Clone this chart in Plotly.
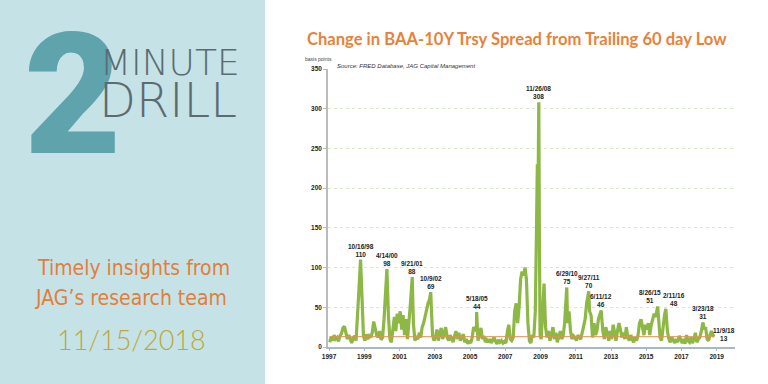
import plotly.graph_objects as go
import pandas as pd

# ---- data: monthly readings (15th of month); None where an exact-date point is given below
v1997 = [6, 13, 8, 15, 10, 12, 7, 14, 17, 24, 26, 18]
v1998 = [10, 15, 9, 5, 11, 14, 8, 35, 75, None, 45, 14]
v1999 = [8, 16, 10, 14, 12, 18, 32, 22, 15, 12, 20, 9]
v2000 = [12, 35, 65, None, 40, 10, 6, 25, 38, 20, 42, 30]
v2001 = [45, 22, 40, 15, 35, 10, 30, 55, None, 30, 8, 12]
v2002 = [10, 18, 12, 25, 30, 40, 45, 55, 60, None, 15, 8]
v2003 = [12, 22, 8, 15, 24, 10, 18, 25, 12, 8, 15, 10]
v2004 = [6, 14, 20, 10, 18, 8, 12, 16, 6, 10, 4, 8]
v2005 = [5, 12, 25, None, 20, 8, 15, 24, 10, 14, 6, 9]
v2006 = [6, 10, 5, 8, 12, 7, 4, 9, 6, 8, 5, 7]
v2007 = [5, 20, 28, 10, 8, 12, 45, 55, 30, 50, 85, 95]
v2008 = [90, 100, 85, 30, 8, 5, 15, 12, 45, None, None, None]
v2009 = [10, 50, 80, 25, 12, 20, 8, 15, 25, 10, 18, 6]
v2010 = [12, 20, 10, 14, 30, None, 30, 45, 20, 10, 14, 12]
v2011 = [8, 15, 12, 10, 18, 25, 35, 55, None, 45, 40, 12]
v2012 = [30, 15, 20, 35, 40, None, 20, 10, 25, 15, 8, 20]
v2013 = [10, 28, 15, 8, 20, 30, 22, 12, 18, 10, 25, 12]
v2014 = [8, 15, 10, 6, 12, 8, 15, 30, 35, 25, 15, 28]
v2015 = [22, 30, 15, 28, 35, 42, 38, None, 35, 12, 8, 25]
v2016 = [40, None, 20, 10, 6, 12, 8, 5, 10, 6, 14, 8]
v2017 = [5, 10, 4, 15, 8, 6, 12, 5, 9, 18, 6, 10]
v2018 = [12, 20, None, 22, 25, 10, 8, 15, 20, 15, None]

peak_labels = ["10/16/98", "4/14/00", "9/21/01", "10/9/02", "5/18/05", "11/26/08",
               "6/29/10", "9/27/11", "6/11/12", "8/26/15", "2/11/16", "3/23/18", "11/9/18"]
peak_values = [110, 98, 88, 69, 44, 308, 75, 70, 46, 51, 48, 31, 13]

extra_dates = ["2008-10-10", "2008-10-27", "2008-11-12", "2008-12-08", "2008-12-22"]
extra_values = [150, 230, 200, 150, 15]

y_ticks = [0, 50, 100, 150, 200, 250, 300, 350]
x_tick_years = [1997, 1999, 2001, 2003, 2005, 2007, 2009, 2011, 2013, 2015, 2017, 2019]

years = {1997: v1997, 1998: v1998, 1999: v1999, 2000: v2000, 2001: v2001, 2002: v2002,
         2003: v2003, 2004: v2004, 2005: v2005, 2006: v2006, 2007: v2007, 2008: v2008,
         2009: v2009, 2010: v2010, 2011: v2011, 2012: v2012, 2013: v2013, 2014: v2014,
         2015: v2015, 2016: v2016, 2017: v2017, 2018: v2018}

peak_dates = list(pd.to_datetime(peak_labels, format="%m/%d/%y"))
rows = []
for yr, vals in years.items():
    for i, v in enumerate(vals):
        if v is not None:
            rows.append((pd.Timestamp(yr, i + 1, 15), v))
for d, v in zip(peak_dates, peak_values):
    rows.append((d, v))
for d, v in zip(pd.to_datetime(extra_dates), extra_values):
    rows.append((d, v))
rows.sort()
df = pd.DataFrame(rows, columns=["date", "value"])

# ---- layout geometry (pixels)
W_FIG, H_FIG = 768, 384
L, R, T, B = 328, 33, 69, 37
PW, PH = W_FIG - L - R, H_FIG - T - B


def px(x):
    return (x - L) / PW


def py(y):
    return (H_FIG - B - y) / PH


fig = go.Figure()
fig.add_trace(go.Scatter(x=df["date"], y=df["value"], mode="lines",
                         line=dict(color="#8DB845", width=3.2), hoverinfo="skip"))
fig.add_trace(go.Scatter(x=[df["date"].iloc[0], df["date"].iloc[-1]],
                         y=[df["value"].iloc[-1]] * 2, mode="lines",
                         line=dict(color="#E8904F", width=1), hoverinfo="skip"))

ann = []
lab_font = dict(family="Liberation Sans, Arial", size=6.5, color="#222222", weight="bold")
xshifts = {"8/26/15": -8, "2/11/16": 8}
for lab, d, v in zip(peak_labels, peak_dates, peak_values):
    if lab == peak_labels[-1]:
        ann.append(dict(x=d, y=v, text=f"{lab}<br>{v}", showarrow=False, xanchor="center",
                        yanchor="middle", xshift=10, yshift=2, font=lab_font, align="center"))
    else:
        ann.append(dict(x=d, y=v, text=f"{lab}<br>{v}", showarrow=False, xanchor="center",
                        yanchor="bottom", yshift=0, xshift=xshifts.get(lab, 0),
                        font=lab_font, align="center"))

# chart texts
ann.append(dict(xref="paper", yref="paper", x=px(517), y=py(39),
                text="Change in BAA-10Y Trsy Spread from Trailing 60 day Low",
                showarrow=False, xanchor="center", yanchor="middle",
                font=dict(family="Lato, Open Sans", size=16.6, color="#E8823A", weight="bold")))
ann.append(dict(xref="paper", yref="paper", x=px(303), y=py(59), text="basis points",
                showarrow=False, xanchor="left", yanchor="middle",
                font=dict(family="Liberation Sans, Arial", size=5, color="#444444")))
ann.append(dict(xref="paper", yref="paper", x=px(335), y=py(66),
                text="<i>Source: FRED Database, JAG Capital Management</i>",
                showarrow=False, xanchor="left", yanchor="middle",
                font=dict(family="Liberation Sans, Arial", size=6, color="#333333")))

# left panel texts
ann.append(dict(xref="paper", yref="paper", x=px(72), y=py(95), text="2", showarrow=False,
                xanchor="center", yanchor="middle",
                font=dict(family="Roboto, Lato", size=168, color="#5FA3AD", weight=900)))
ann.append(dict(xref="paper", yref="paper", x=px(98), y=py(63), text="MINUTE", showarrow=False,
                xanchor="left", yanchor="middle",
                font=dict(family="DejaVu Sans, Lato", size=36, color="#5C6B71", weight=200)))
ann.append(dict(xref="paper", yref="paper", x=px(97), y=py(100), text="DRILL", showarrow=False,
                xanchor="left", yanchor="middle",
                font=dict(family="DejaVu Sans, Lato", size=48, color="#5C6B71", weight=200)))
cond = "DejaVu Sans Condensed, sans-serif"
ann.append(dict(xref="paper", yref="paper", x=px(133), y=py(268), text="Timely insights from",
                showarrow=False, xanchor="center", yanchor="middle",
                font=dict(family=cond, size=21, color="#E27E3C")))
ann.append(dict(xref="paper", yref="paper", x=px(131), y=py(298), text="JAG’s research team",
                showarrow=False, xanchor="center", yanchor="middle",
                font=dict(family=cond, size=21, color="#E27E3C")))
ann.append(dict(xref="paper", yref="paper", x=px(131), y=py(339), text="11/15/2018",
                showarrow=False, xanchor="center", yanchor="middle",
                font=dict(family="Lato, Open Sans", size=27, color="#BBA83A", weight=300)))

shapes = [dict(type="rect", xref="paper", yref="paper", x0=px(0), x1=px(265),
               y0=py(H_FIG), y1=py(0), fillcolor="#C5E3E6", line=dict(width=0), layer="below")]

fig.update_layout(
    width=W_FIG, height=H_FIG,
    margin=dict(l=L, r=R, t=T, b=B),
    paper_bgcolor="white", plot_bgcolor="white",
    showlegend=False,
    annotations=ann, shapes=shapes,
    xaxis=dict(type="date", range=["1996-12-10", "2020-01-15"],
               tickvals=[pd.Timestamp(y, 1, 1) for y in x_tick_years],
               ticktext=[str(y) for y in x_tick_years],
               showgrid=False, zeroline=False,
               showline=True, linecolor="#A9B7CC", linewidth=1.5,
               ticks="outside", ticklen=2, tickcolor="#A9B7CC",
               tickfont=dict(family="Liberation Sans, Arial", size=6.5, color="#222222", weight="bold")),
    yaxis=dict(range=[0, 350], tickvals=y_ticks,
               showgrid=True, gridcolor="#D8EACB", griddash="dot", gridwidth=1,
               zeroline=False, showline=True, linecolor="#BBBBBB", linewidth=1.5,
               ticks="outside", ticklen=3, tickcolor="#BBBBBB",
               tickfont=dict(family="Liberation Sans, Arial", size=6.5, color="#222222", weight="bold")),
)

fig.write_html("out.html", config={"displayModeBar": False},
               post_script="document.body.style.margin='0px';document.body.style.overflow='hidden';")
